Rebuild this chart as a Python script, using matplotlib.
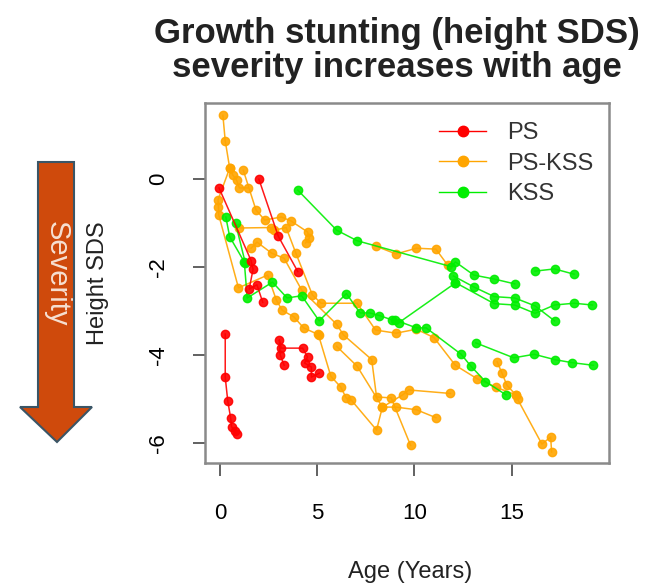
import matplotlib
matplotlib.use("Agg")
import matplotlib.pyplot as plt
from matplotlib.patches import Polygon

plt.rcParams['font.family'] = ['Liberation Sans', 'DejaVu Sans']

# ---------------- data (age in years, height SDS) ----------------
# PS
ps_1_age = [-0.05, 1.6, 1.7, 1.5, 1.9, 2.2]
ps_1_sds = [-0.2, -1.85, -2.05, -2.5, -2.4, -2.8]
ps_2_age = [2.0, 3.0, 4.0]
ps_2_sds = [0.0, -1.3, -2.1]
ps_3_age = [0.27, 0.27, 0.4, 0.55, 0.6, 0.75, 0.85]
ps_3_sds = [-3.52, -4.5, -5.04, -5.43, -5.63, -5.72, -5.79]
ps_4_age = [3.3, 3.1, 3.05, 3.15, 4.25, 4.5, 4.35, 4.7, 4.7, 5.1]
ps_4_sds = [-4.23, -4.0, -3.65, -3.84, -3.84, -4.04, -4.18, -4.27, -4.5, -4.41]

# PS-KSS
pk_1_age = [0.15, 0.27, 0.5, 0.65, 0.85, 1.0, 1.45]
pk_1_sds = [1.45, 0.87, 0.25, 0.1, -0.02, -0.2, -0.2]
pk_2_age = [0.5, -0.1, -0.08, -0.06, 0.95, 2.45, 2.9, 3.2, 3.8, 4.3, 5.1]
pk_2_sds = [0.25, -0.47, -0.63, -0.82, -2.47, -2.18, -2.75, -2.98, -3.13, -3.38, -3.54]
pk_3_age = [1.2, 1.85, 2.3, 3.15, 3.65, 4.5, 4.6, 4.4]
pk_3_sds = [0.2, -0.7, -0.93, -0.86, -0.95, -1.2, -1.34, -1.45]
pk_4_age = [1.0, 2.6, 2.8, 3.4, 3.9, 4.75, 5.2, 7.05, 8.0, 9.05, 10.1, 11.0, 12.1, 13.2, 14.2, 15.2]
pk_4_sds = [-1.11, -1.1, -1.16, -1.1, -1.68, -2.63, -2.82, -2.82, -3.43, -3.5, -3.41, -3.6, -4.23, -4.53, -4.73, -4.9]
pk_5_age = [1.6, 1.9, 2.65, 3.3, 4.2, 6.0, 6.35, 7.8, 8.05, 8.8, 9.8]
pk_5_sds = [-1.57, -1.43, -1.68, -1.8, -2.52, -3.3, -3.54, -4.1, -4.95, -4.97, -6.05]
pk_6_age = [5.05, 5.7, 6.2, 6.5, 6.75, 8.05, 8.35, 9.4, 9.7, 11.85]
pk_6_sds = [-3.52, -4.48, -4.72, -4.98, -5.02, -5.7, -5.18, -4.9, -4.79, -4.87]
pk_7_age = [6.0, 7.05, 8.35, 9.05, 10.1, 11.1]
pk_7_sds = [-3.8, -4.25, -5.18, -5.18, -5.24, -5.42]
pk_8_age = [8.0, 9.05, 10.1, 11.1, 11.7]
pk_8_sds = [-1.52, -1.7, -1.57, -1.59, -1.95]
pk_9_age = [14.25, 14.5, 14.75, 15.2, 15.3, 16.55, 17.0, 17.05]
pk_9_sds = [-4.15, -4.41, -4.68, -4.9, -5.0, -6.02, -5.86, -6.2]

# KSS
kss_1_age = [4.0, 6.0, 7.05, 11.9, 12.1, 13.05, 14.1, 15.15]
kss_1_sds = [-0.25, -1.16, -1.4, -1.99, -1.88, -2.18, -2.27, -2.38]
kss_2_age = [12.0, 13.05, 14.1, 15.15, 16.2, 17.2]
kss_2_sds = [-2.2, -2.45, -2.67, -2.7, -2.88, -3.22]
kss_3_age = [12.1, 14.1, 15.15, 16.2, 17.2, 18.2, 19.15]
kss_3_sds = [-2.35, -2.83, -2.86, -3.05, -2.86, -2.82, -2.86]
kss_4_age = [16.2, 17.2, 18.2]
kss_4_sds = [-2.09, -2.04, -2.16]
kss_5_age = [0.3, 0.5, 1.25, 1.4, 2.7, 3.45, 4.2, 5.1, 6.5, 7.2, 7.7, 8.2, 8.85, 9.2, 12.1]
kss_5_sds = [-0.86, -1.31, -1.88, -2.7, -2.34, -2.7, -2.65, -3.22, -2.6, -3.04, -3.04, -3.1, -3.2, -3.26, -2.36]
kss_6_age = [0.8, 1.3]
kss_6_sds = [-1.0, -1.9]
kss_7_age = [9.0, 10.1, 10.6, 12.4, 12.9, 13.65, 14.7]
kss_7_sds = [-3.2, -3.38, -3.38, -3.98, -4.25, -4.6, -4.9]
kss_8_age = [13.15, 15.1, 16.15, 17.2, 18.1, 19.2]
kss_8_sds = [-3.72, -4.06, -3.98, -4.1, -4.17, -4.23]

groups = ["PS", "PS-KSS", "KSS"]
x_ticks = [0, 5, 10, 15]
x_tick_labels = ["0", "5", "10", "15"]
y_ticks = [0, -2, -4, -6]
y_tick_labels = ["0", "-2", "-4", "-6"]

colors = {"PS": "#FF0000", "PS-KSS": "#FFA500", "KSS": "#00EE00"}

series = {
    "PS-KSS": [(pk_1_age, pk_1_sds), (pk_2_age, pk_2_sds), (pk_3_age, pk_3_sds),
               (pk_4_age, pk_4_sds), (pk_5_age, pk_5_sds), (pk_6_age, pk_6_sds),
               (pk_7_age, pk_7_sds), (pk_8_age, pk_8_sds), (pk_9_age, pk_9_sds)],
    "KSS": [(kss_1_age, kss_1_sds), (kss_2_age, kss_2_sds), (kss_3_age, kss_3_sds),
            (kss_4_age, kss_4_sds), (kss_5_age, kss_5_sds), (kss_6_age, kss_6_sds),
            (kss_7_age, kss_7_sds), (kss_8_age, kss_8_sds)],
    "PS": [(ps_1_age, ps_1_sds), (ps_2_age, ps_2_sds), (ps_3_age, ps_3_sds),
           (ps_4_age, ps_4_sds)],
}

W, H = 654, 585
fig = plt.figure(figsize=(W / 100, H / 100), dpi=100)
ax = fig.add_axes([205 / W, 1 - 463 / H, 404 / W, 360 / H])

for g in ["PS-KSS", "KSS", "PS"]:
    for a, s in series[g]:
        ax.plot(a, s, color=colors[g], lw=1.1, marker="o", ms=6.0,
                mec=colors[g], mfc=colors[g], alpha=0.9)

ax.set_xlim(-0.77, 20.0)
ax.set_ylim(-6.45, 1.73)
ax.set_xticks(x_ticks)
ax.set_xticklabels(x_tick_labels, fontsize=16)
ax.set_yticks(y_ticks)
ax.set_yticklabels(y_tick_labels, fontsize=16, rotation=90, va="center")
ax.tick_params(axis="both", length=9, width=1.3, color="#555555", direction="out")
ax.tick_params(axis="x", pad=20)
ax.tick_params(axis="y", pad=17)
for sp in ax.spines.values():
    sp.set_color("#8a8a8a")
    sp.set_linewidth(1.8)

# legend
handles = [plt.Line2D([], [], color=colors[g], lw=1.0, marker="o", ms=7.5) for g in groups]
leg = ax.legend(handles, groups, loc="upper left",
                bbox_to_anchor=(439 / W, 1 - 122 / H), bbox_transform=fig.transFigure,
                frameon=False, fontsize=17, handlelength=2.0, handletextpad=0.9,
                labelspacing=0.36, borderpad=0, borderaxespad=0)
for t in leg.get_texts():
    t.set_color("#333333")

# titles and labels
fig.text(397 / W, 1 - 33 / H, "Growth stunting (height SDS)", ha="center", va="center",
         fontsize=25, fontweight="bold", color="#222222")
fig.text(397 / W, 1 - 68 / H, "severity increases with age", ha="center", va="center",
         fontsize=25, fontweight="bold", color="#222222")
fig.text(98 / W, 1 - 283 / H, "Height SDS", rotation=90, ha="center", va="center",
         fontsize=17, color="#222222")
fig.text(410 / W, 1 - 572 / H, "Age (Years)", ha="center", va="center",
         fontsize=17, color="#222222")

# severity arrow
pts = [(38, 162), (74, 162), (74, 407), (92, 407), (57, 442), (20, 407), (38, 407)]
poly = Polygon([(x / W, 1 - y / H) for x, y in pts], closed=True,
               transform=fig.transFigure, facecolor="#CF4A0C", edgecolor="#3A5566", lw=1.5)
fig.patches.append(poly)
fig.text(57 / W, 1 - 274 / H, "Severity", rotation=-90, ha="center", va="center",
         fontsize=21, color="#F6E0D2")

fig.savefig("out.png", dpi=100)
